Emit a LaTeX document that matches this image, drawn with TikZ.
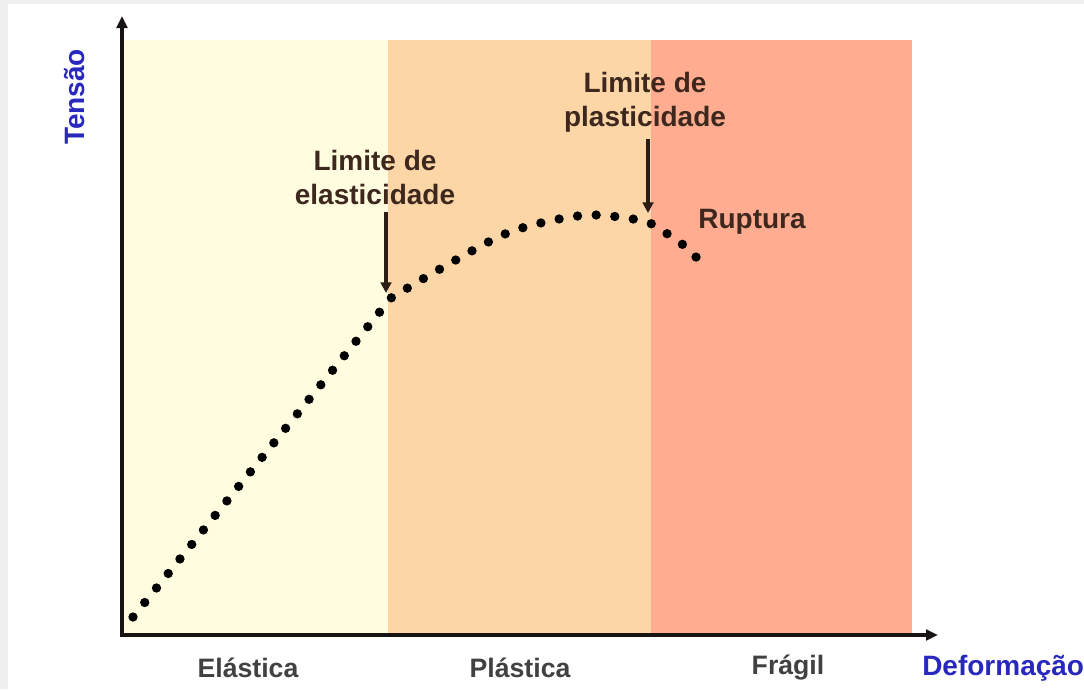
\documentclass[tikz,border=0pt]{standalone}
\usepackage{fontspec}
\setmainfont{Liberation Sans}
\usetikzlibrary{arrows.meta}
\definecolor{framegray}{RGB}{240,240,240}
\definecolor{elastcol}{RGB}{255,252,224}
\definecolor{plastcol}{RGB}{252,214,166}
\definecolor{fragcol}{RGB}{255,172,145}
\definecolor{annotcol}{RGB}{62,40,30}
\definecolor{labcol}{RGB}{65,65,65}
\definecolor{axisblue}{RGB}{40,40,190}
\definecolor{axiscol}{RGB}{25,20,20}
\tikzset{
  axisline/.style={draw=axiscol, line width=3.2pt, -{Triangle[length=9pt,width=8pt]}},
  pointer/.style={draw=annotcol!70!black, line width=3pt, -{Triangle[length=8pt,width=8pt]}},
  dotcurve/.style={draw=black, line width=7pt, line cap=round, dash pattern=on 0pt off 14pt},
  annot/.style={text=annotcol, font=\fontsize{21}{25.5}\selectfont\bfseries, align=center, inner sep=0pt},
  zonelabel/.style={text=labcol, font=\fontsize{20}{24}\selectfont\bfseries, inner sep=0pt},
  axislabel/.style={text=axisblue, font=\fontsize{21}{25}\selectfont\bfseries, inner sep=0pt}
}
\begin{document}
\begin{tikzpicture}[x=0.75pt,y=-0.75pt]
\useasboundingbox (0,0) rectangle (1084,689);
% frame
\fill[framegray] (0,0) rectangle (1084,689);
\fill[white] (8,4) rectangle (1084,689);
% zones
\fill[elastcol] (122,40) rectangle (388,633);
\fill[plastcol] (388,40) rectangle (651,633);
\fill[fragcol] (651,40) rectangle (912,633);
% axes
\coordinate (origin) at (122,635);
\coordinate (ytip) at (122,16);
\coordinate (xtip) at (938,635);
\draw[axisline] ([yshift=-1.6pt]origin) -- (ytip);
\draw[axisline] ([xshift=-1.6pt]origin) -- (xtip);
% curve
\draw[dotcurve] (133,617) -- (391,298)
  -- plot[smooth, tension=0.55] coordinates {(391,298) (440,269) (505,234) (559,219) (596,215) (633,219) (650,223)}
  -- plot[smooth, tension=0.5] coordinates {(650,223) (666,233) (682,244) (697,258)};
% key points
\coordinate (elast) at (386,293);
\coordinate (plast) at (648,213);
% labels
\node[annot] (lbl1) at (375,177) {Limite de\\elasticidade};
\node[annot] (lbl2) at (645,102) {Limite de\\plasticidade};
\node[annot] (rupt) at (752,222) {Ruptura};
\draw[pointer] (elast |- lbl1.south) ++(0,7) -- (elast);
\draw[pointer] (plast |- lbl2.south) ++(0,7) -- (plast);
\node[zonelabel] (zel) at (248,668) {Elástica};
\node[zonelabel] (zpl) at (520,668) {Plástica};
\node[zonelabel] (zfr) at (788,668) {Frágil};
\node[axislabel, anchor=west] (xlab) at (922,668) {Deformação};
\node[axislabel, rotate=90] (ylab) at (75,97) {Tensão};
\end{tikzpicture}
\end{document}
